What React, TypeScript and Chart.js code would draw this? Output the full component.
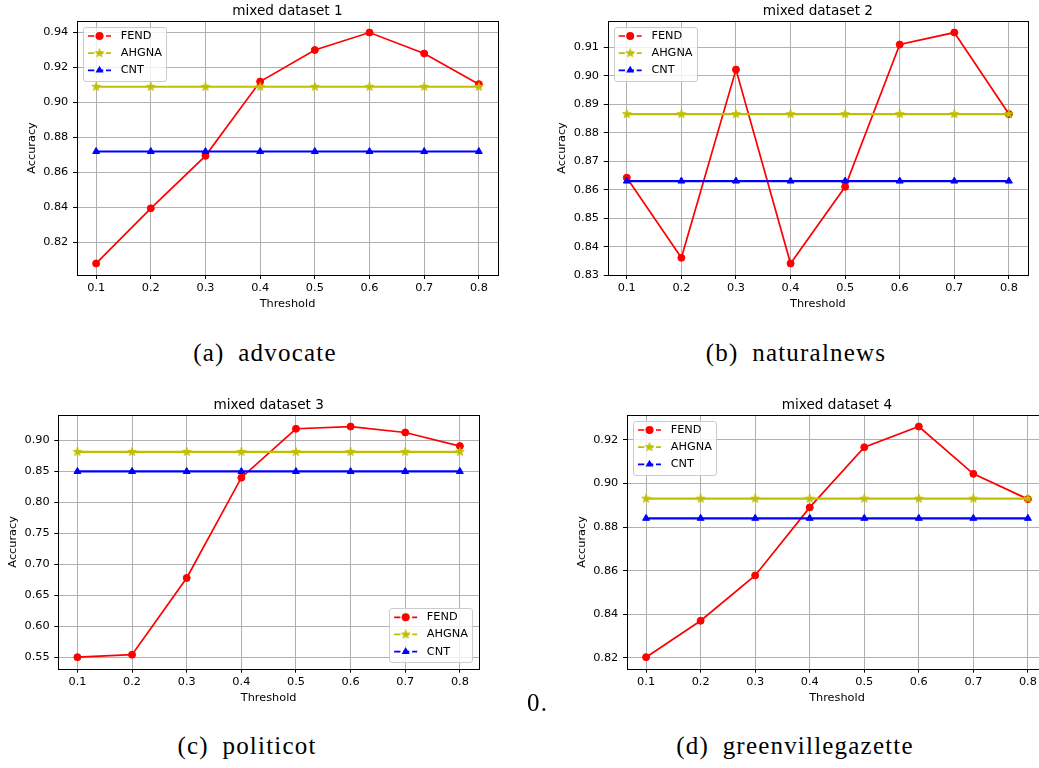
import React, { useEffect, useRef } from 'react';
import { Chart, registerables } from 'chart.js';

Chart.register(...registerables);

// ---------------- data ----------------
const thresholds = [0.1, 0.2, 0.3, 0.4, 0.5, 0.6, 0.7, 0.8];
const xTickValues = [0.1, 0.2, 0.3, 0.4, 0.5, 0.6, 0.7, 0.8];
const seriesLabels = ['FEND', 'AHGNA', 'CNT'];

const fend1 = [0.808, 0.8395, 0.8695, 0.912, 0.930, 0.940, 0.928, 0.9105];
const ahgna1 = [0.909, 0.909, 0.909, 0.909, 0.909, 0.909, 0.909, 0.909];
const cnt1 = [0.872, 0.872, 0.872, 0.872, 0.872, 0.872, 0.872, 0.872];
const yTicks1 = [0.82, 0.84, 0.86, 0.88, 0.90, 0.92, 0.94];

const fend2 = [0.8642, 0.8361, 0.9021, 0.8341, 0.861, 0.9109, 0.9151, 0.8865];
const ahgna2 = [0.8865, 0.8865, 0.8865, 0.8865, 0.8865, 0.8865, 0.8865, 0.8865];
const cnt2 = [0.863, 0.863, 0.863, 0.863, 0.863, 0.863, 0.863, 0.863];
const yTicks2 = [0.83, 0.84, 0.85, 0.86, 0.87, 0.88, 0.89, 0.90, 0.91];

const fend3 = [0.550, 0.554, 0.678, 0.840, 0.919, 0.9226, 0.913, 0.891];
const ahgna3 = [0.8817, 0.8817, 0.8817, 0.8817, 0.8817, 0.8817, 0.8817, 0.8817];
const cnt3 = [0.850, 0.850, 0.850, 0.850, 0.850, 0.850, 0.850, 0.850];
const yTicks3 = [0.55, 0.60, 0.65, 0.70, 0.75, 0.80, 0.85, 0.90];

const fend4 = [0.8203, 0.837, 0.8578, 0.889, 0.9166, 0.9261, 0.9044, 0.8928];
const ahgna4 = [0.893, 0.893, 0.893, 0.893, 0.893, 0.893, 0.893, 0.893];
const cnt4 = [0.884, 0.884, 0.884, 0.884, 0.884, 0.884, 0.884, 0.884];
const yTicks4 = [0.82, 0.84, 0.86, 0.88, 0.90, 0.92];

const chartTitles = ['mixed dataset 1', 'mixed dataset 2', 'mixed dataset 3', 'mixed dataset 4'];
const captions = ['(a)\u2002advocate', '(b)\u2002naturalnews', '(c)\u2002politicot', '(d)\u2002greenvillegazette'];

// ---------------- layout ----------------
const FS = 11.3;
const TITLE_FS = 13.6;
const LH = FS * 1.2;
const FONT = '"DejaVu Sans"';

const RED = '#ff0000';
const YEL = '#bfbf00';
const BLUE = '#0000ff';

type Panel = {
  title: string;
  fend: number[];
  ahgna: number[];
  cnt: number[];
  yTicks: number[];
  legend: 'ul' | 'lr';
  cx: number; cy: number; cw: number; ch: number;
  l: number; t: number; r: number; b: number; // chart area in page coords
};

const panels: Panel[] = [
  { title: chartTitles[0], fend: fend1, ahgna: ahgna1, cnt: cnt1, yTicks: yTicks1, legend: 'ul',
    cx: 0, cy: 0, cw: 515, ch: 318, l: 77, t: 21, r: 498, b: 275 },
  { title: chartTitles[1], fend: fend2, ahgna: ahgna2, cnt: cnt2, yTicks: yTicks2, legend: 'ul',
    cx: 520, cy: 0, cw: 519, ch: 318, l: 607.7, t: 21, r: 1028, b: 275 },
  { title: chartTitles[2], fend: fend3, ahgna: ahgna3, cnt: cnt3, yTicks: yTicks3, legend: 'lr',
    cx: 0, cy: 390, cw: 515, ch: 320, l: 58.3, t: 415, r: 479, b: 668.7 },
  { title: chartTitles[3], fend: fend4, ahgna: ahgna4, cnt: cnt4, yTicks: yTicks4, legend: 'ul',
    cx: 520, cy: 390, cw: 540, ch: 320, l: 627, t: 415, r: 1047, b: 668.7 },
];

function makeStar(): HTMLCanvasElement {
  const c = document.createElement('canvas');
  c.width = 12; c.height = 12;
  const g = c.getContext('2d')!;
  g.beginPath();
  for (let i = 0; i < 10; i++) {
    const rad = i % 2 === 0 ? 4.5 : 1.8;
    const ang = -Math.PI / 2 + (i * Math.PI) / 5;
    const px = 6 + rad * Math.cos(ang);
    const py = 6 + rad * Math.sin(ang);
    if (i === 0) g.moveTo(px, py); else g.lineTo(px, py);
  }
  g.closePath();
  g.fillStyle = YEL;
  g.fill();
  g.strokeStyle = YEL;
  g.lineWidth = 0.9;
  g.stroke();
  return c;
}

function drawMarker(ctx: CanvasRenderingContext2D, kind: number, x: number, y: number, star: HTMLCanvasElement) {
  if (kind === 0) {
    ctx.beginPath();
    ctx.arc(x, y, 4, 0, Math.PI * 2);
    ctx.fillStyle = RED;
    ctx.fill();
  } else if (kind === 1) {
    ctx.drawImage(star, x - 6, y - 6);
  } else {
    const r = 4.6;
    ctx.beginPath();
    ctx.moveTo(x, y - r);
    ctx.lineTo(x + r * Math.sin((2 * Math.PI) / 3), y - r * Math.cos((2 * Math.PI) / 3));
    ctx.lineTo(x + r * Math.sin((4 * Math.PI) / 3), y - r * Math.cos((4 * Math.PI) / 3));
    ctx.closePath();
    ctx.fillStyle = BLUE;
    ctx.fill();
  }
}

const decorPlugin = {
  id: 'decor',
  afterDatasetsDraw(chart: any) {
    const { ctx, chartArea: a } = chart;
    const al = (v: number) => Math.round(v) + 0.5;
    ctx.save();
    ctx.strokeStyle = '#000';
    ctx.lineWidth = 1;
    ctx.strokeRect(al(a.left), al(a.top), Math.round(a.right) - Math.round(a.left), Math.round(a.bottom) - Math.round(a.top));
    ctx.restore();
  },
  afterDraw(chart: any) {
    const { ctx, chartArea: a } = chart;
    const o = chart.options.plugins.decor;
    ctx.save();
    // title
    ctx.font = `${TITLE_FS}px ${FONT}`;
    ctx.fillStyle = '#000';
    ctx.textAlign = 'center';
    ctx.textBaseline = 'alphabetic';
    ctx.fillText(o.title, (a.left + a.right) / 2, a.top - 6.5);

    // legend
    ctx.font = `${FS}px ${FONT}`;
    const maxW = Math.max(...seriesLabels.map((s) => ctx.measureText(s).width));
    const w = 37.4 + maxW + 4.7;
    const h = 54.3;
    let bx: number, by: number;
    if (o.legend === 'ul') { bx = a.left + 6.3; by = a.top + 5.7; }
    else { bx = a.right - 6.3 - w; by = a.bottom - 6.4 - h; }
    ctx.beginPath();
    ctx.roundRect(Math.round(bx) + 0.5, Math.round(by) + 0.5, Math.round(w), Math.round(h), 2.5);
    ctx.fillStyle = 'rgba(255,255,255,0.8)';
    ctx.fill();
    ctx.strokeStyle = '#cccccc';
    ctx.lineWidth = 1;
    ctx.stroke();
    const colors = [RED, YEL, BLUE];
    seriesLabels.forEach((lab, i) => {
      const ry = by + 9.3 + i * 17.15;
      ctx.beginPath();
      ctx.setLineDash([6.3, 2.7]);
      ctx.strokeStyle = colors[i];
      ctx.lineWidth = 1.7;
      ctx.moveTo(bx + 4.7, ry);
      ctx.lineTo(bx + 27.7, ry);
      ctx.stroke();
      ctx.setLineDash([]);
      drawMarker(ctx, i, bx + 16.2, ry, o.star);
      ctx.fillStyle = '#000';
      ctx.textAlign = 'left';
      ctx.textBaseline = 'middle';
      ctx.fillText(lab, bx + 37.4, ry);
    });
    ctx.restore();
  },
};

function buildConfig(p: Panel, star: HTMLCanvasElement): any {
  const L = p.l - p.cx;
  const T = p.t - p.cy;
  const R = p.r - p.cx;
  const B = p.b - p.cy;
  const all = [...p.fend, ...p.ahgna, ...p.cnt];
  const lo = Math.min(...all);
  const hi = Math.max(...all);
  const m = (hi - lo) * 0.05;
  const pts = (arr: number[]) => thresholds.map((x, i) => ({ x, y: arr[i] }));
  const font = { family: FONT, size: FS };
  return {
    type: 'line',
    data: {
      datasets: [
        { label: seriesLabels[0], data: pts(p.fend), borderColor: RED, backgroundColor: RED, borderWidth: 1.7,
          pointStyle: 'circle', pointRadius: 3.5, pointBorderWidth: 1, pointBackgroundColor: RED, pointBorderColor: RED,
          tension: 0, fill: false, order: 2 },
        { label: seriesLabels[1], data: pts(p.ahgna), borderColor: YEL, backgroundColor: YEL, borderWidth: 2.2,
          pointStyle: star, pointRadius: 4, tension: 0, fill: false, order: 1 },
        { label: seriesLabels[2], data: pts(p.cnt), borderColor: BLUE, backgroundColor: BLUE, borderWidth: 2.2,
          pointStyle: 'triangle', pointRadius: 4, pointBorderWidth: 1, pointBackgroundColor: BLUE, pointBorderColor: BLUE,
          tension: 0, fill: false, order: 0 },
      ],
    },
    options: {
      animation: false,
      responsive: false,
      devicePixelRatio: 1,
      events: [],
      layout: { padding: { left: 0, top: T, right: p.cw - R, bottom: 0 } },
      plugins: {
        legend: { display: false },
        title: { display: false },
        tooltip: { enabled: false },
        decor: { title: p.title, legend: p.legend, star },
      },
      scales: {
        x: {
          type: 'linear',
          min: 0.065,
          max: 0.835,
          afterBuildTicks: (s: any) => { s.ticks = xTickValues.map((v) => ({ value: v })); },
          afterFit: (s: any) => { s.height = p.ch - B; },
          ticks: { callback: (v: number) => v.toFixed(1), font, color: '#000', padding: 2.3, maxRotation: 0, autoSkip: false },
          grid: { color: '#b0b0b0', lineWidth: 1, tickColor: '#000', tickLength: 4, tickWidth: 1 },
          border: { display: false },
          title: { display: true, text: 'Threshold', font, color: '#000', padding: { top: 0, bottom: p.ch - (B + 29.4) - LH / 2 } },
        },
        y: {
          type: 'linear',
          min: lo - m,
          max: hi + m,
          afterBuildTicks: (s: any) => { s.ticks = p.yTicks.map((v) => ({ value: v })); },
          afterFit: (s: any) => { s.width = L; },
          ticks: { callback: (v: number) => v.toFixed(2), font, color: '#000', padding: 4.7, autoSkip: false },
          grid: { color: '#b0b0b0', lineWidth: 1, tickColor: '#000', tickLength: 4, tickWidth: 1 },
          border: { display: false },
          title: { display: true, text: 'Accuracy', font, color: '#000', padding: { top: L - 45.2 - LH / 2, bottom: 0 } },
        },
      },
    },
    plugins: [decorPlugin],
  };
}

function PanelChart({ p }: { p: Panel }) {
  const ref = useRef<HTMLCanvasElement>(null);
  useEffect(() => {
    const star = makeStar();
    const chart = new Chart(ref.current as HTMLCanvasElement, buildConfig(p, star));
    return () => chart.destroy();
  }, []);
  return (
    <canvas
      ref={ref}
      width={p.cw}
      height={p.ch}
      style={{ position: 'absolute', left: p.cx, top: p.cy, width: p.cw, height: p.ch }}
    />
  );
}

const captionStyle: React.CSSProperties = {
  position: 'absolute',
  width: 400,
  textAlign: 'center',
  fontFamily: '"Liberation Serif", serif',
  fontSize: 25,
  lineHeight: '30px',
  letterSpacing: '1.2px',
  color: '#000',
  whiteSpace: 'nowrap',
};

const captionCenters = [265, 796, 247, 795];
const captionTops = [338.3, 338.3, 730.6, 730.6];

export default function App() {
  useEffect(() => {
    Chart.defaults.font.family = FONT;
  }, []);
  return (
    <div style={{ position: 'absolute', left: 0, top: 0, width: 1039, height: 768, overflow: 'hidden', background: '#fff' }}>
      {panels.map((p, i) => (
        <PanelChart key={i} p={p} />
      ))}
      {captions.map((c, i) => (
        <div key={i} style={{ ...captionStyle, left: captionCenters[i] - 200, top: captionTops[i] }}>{c}</div>
      ))}
      <div style={{ ...captionStyle, width: 'auto', textAlign: 'left', left: 527, top: 688 }}>0.</div>
    </div>
  );
}
